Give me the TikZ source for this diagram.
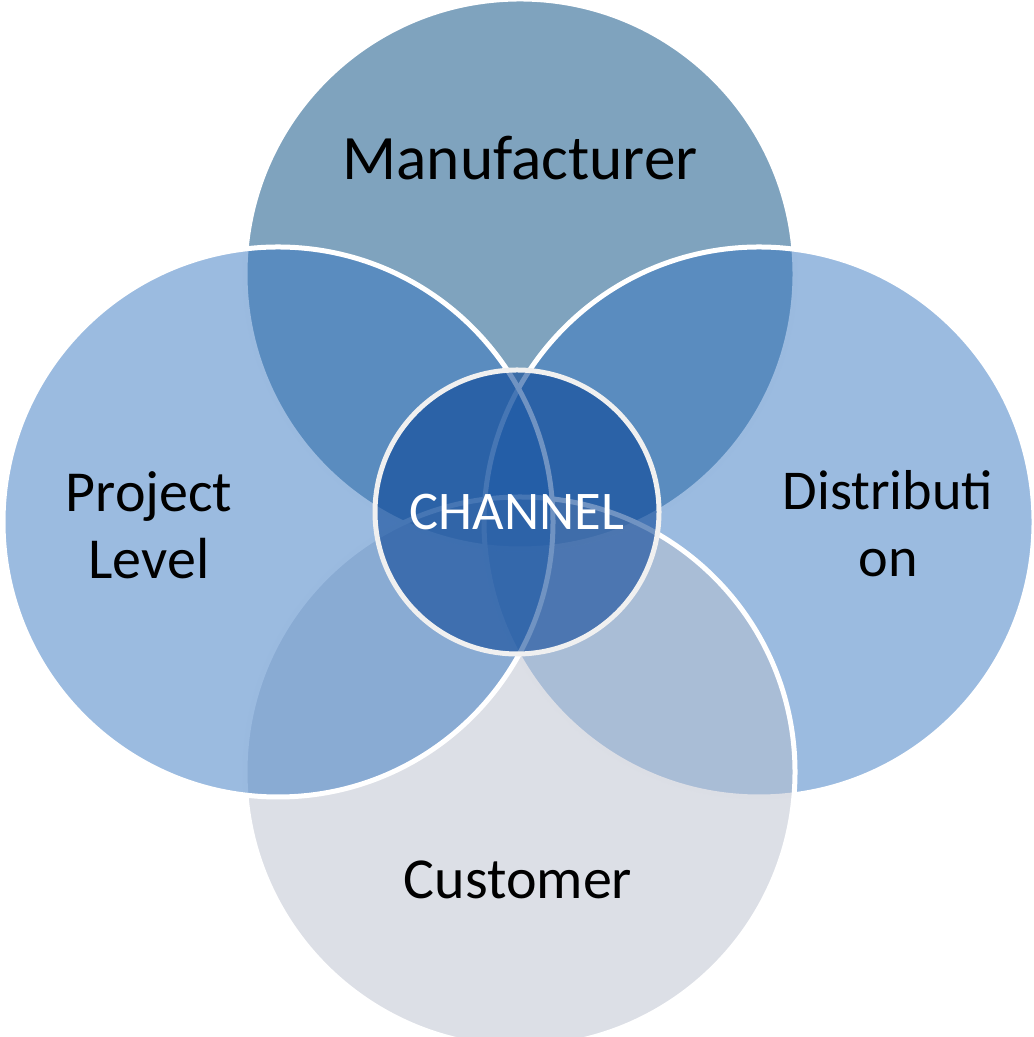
\documentclass[tikz,border=0pt]{standalone}
\usepackage{fontspec}
\setmainfont{Carlito}
\usepackage{xcolor}
\usepackage{tikz}
\usetikzlibrary{calc}

\definecolor{manublue}{RGB}{127,163,190}
\definecolor{sideblue}{RGB}{55,119,193}
\definecolor{custgray}{RGB}{185,191,205}
\definecolor{chanblue}{RGB}{10,69,150}
\definecolor{chanrim}{RGB}{240,240,240}

\tikzset{
  venn/.style={circle, minimum size=5.50cm, inner sep=0pt, draw=white, line width=0.05cm},
  venntext/.style={font=\fontsize{16.5}{19}\selectfont, align=center}
}

\begin{document}
\begin{tikzpicture}
    \useasboundingbox (0,0) rectangle (10.33,10.37);

    % Draw the four circles
    \node[venn, fill=manublue] (manu) at (5.20,7.63) {};
    \node[venn, fill=sideblue, fill opacity=0.5] (dist) at (7.59,5.15) {};
    \node[venn, fill=custgray, fill opacity=0.5] (cust) at (5.20,2.65) {};
    \node[venn, fill=sideblue, fill opacity=0.5] (proj) at (2.78,5.15) {};

    % Draw the centre circle
    \node[circle, minimum size=2.84cm, inner sep=0pt, draw=chanrim, line width=0.05cm,
          fill=chanblue, fill opacity=0.58, text opacity=1, text=white,
          font=\fontsize{15.5}{18}\selectfont] (chan) at (5.17,5.25) {CHANNEL};

    % Add labels
    \node[venntext, font=\fontsize{18}{21}\selectfont] (manulabel) at (5.20,8.79) {Manufacturer};
    \node[venntext] (projlabel) at (1.49,5.12) {Project\\Level};
    \node[venntext, font=\fontsize{16}{19}\selectfont] (distlabel) at (8.88,5.13) {Distributi\\on};
    \node[venntext] (custlabel) at (5.18,1.57) {Customer};
\end{tikzpicture}
\end{document}
